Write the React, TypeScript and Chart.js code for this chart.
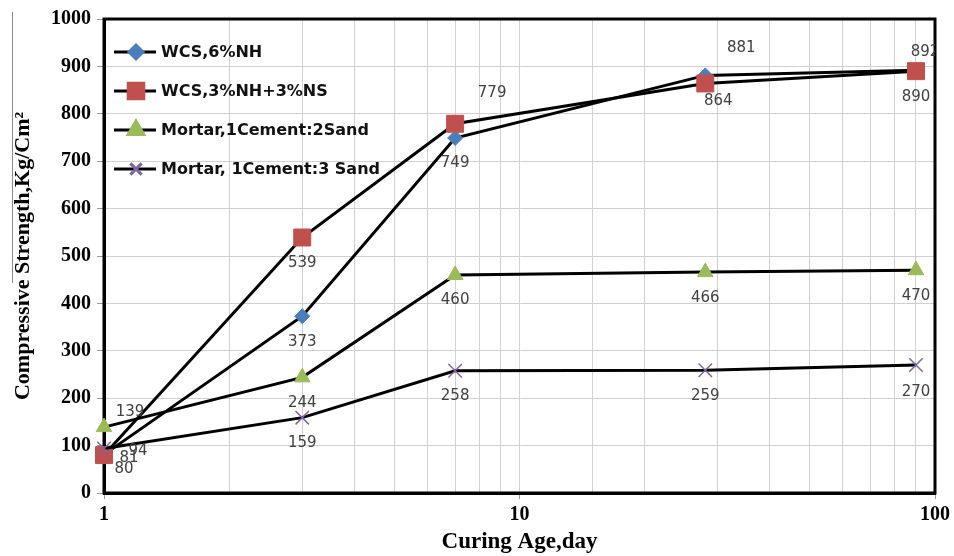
import React, { useEffect, useRef } from 'react';
import { Chart, registerables } from 'chart.js';
import { drawPoint } from 'chart.js/helpers';

Chart.register(...registerables);

// ---- data ----
const curingAges = [1, 3, 7, 28, 90];
const wcs6NH = [81, 373, 749, 881, 892];
const wcs3NH3NS = [80, 539, 779, 864, 890];
const mortar1to2 = [139, 244, 460, 466, 470];
const mortar1to3 = [94, 159, 258, 259, 270];
const seriesNames = ['WCS,6%NH', 'WCS,3%NH+3%NS', 'Mortar,1Cement:2Sand', 'Mortar, 1Cement:3 Sand'];
const xTickLabels = [1, 10, 100];
const yTitle = 'Compressive Strength,Kg/Cm\u00B2';
const xTitle = 'Curing Age,day';

// ---- styles ----
const markerColors = ['#4a7ebb', '#c0504d', '#9bbb59', '#8064a2'];
const markerStyles = ['rectRot', 'rect', 'triangle', 'crossRot'];
const markerRadius = [7.5, 12, 9, 9.5];
const legendRadius = [7, 11, 9, 8];
// data-label offsets (dx, dy) from each point, per series
const labelOffsets = [
  [[25, 4], [0, 26], [0, 25], [36, -27], [9, -18]],
  [[20, 14], [0, 26], [37, -31], [13, 18], [0, 26]],
  [[26, -15], [0, 26], [0, 25], [0, 26], [0, 26]],
  [[34, 3], [0, 25], [0, 25], [0, 26], [0, 27]],
];

const allSeries = [wcs6NH, wcs3NH3NS, mortar1to2, mortar1to3];

const overlayPlugin = {
  id: 'overlay',
  beforeDatasetsDraw(chart: any) {
    const { ctx, chartArea: a } = chart;
    ctx.save();
    ctx.strokeStyle = '#000';
    ctx.lineWidth = 3;
    ctx.strokeRect(a.left, a.top, a.right - a.left, a.bottom - a.top);
    ctx.restore();
    ctx.save();
    ctx.strokeStyle = '#8a8a8a';
    ctx.lineWidth = 1;
    ctx.beginPath();
    ctx.moveTo(12.5, 12);
    ctx.lineTo(12.5, 283);
    ctx.stroke();
    ctx.restore();
  },
  afterDatasetsDraw(chart: any) {
    const { ctx, chartArea: a } = chart;
    // data labels
    ctx.save();
    ctx.beginPath();
    ctx.rect(0, 0, a.right, chart.height);
    ctx.clip();
    ctx.font = '15px "DejaVu Sans"';
    ctx.fillStyle = '#404040';
    ctx.textAlign = 'center';
    ctx.textBaseline = 'middle';
    allSeries.forEach((vals, i) => {
      const meta = chart.getDatasetMeta(i);
      meta.data.forEach((pt: any, j: number) => {
        const [dx, dy] = labelOffsets[i][j];
        ctx.fillText(String(vals[j]), pt.x + dx, pt.y + dy);
      });
    });
    ctx.restore();

    // legend
    ctx.save();
    seriesNames.forEach((name, i) => {
      const y = a.top + 33 + i * 39;
      ctx.strokeStyle = '#000';
      ctx.lineWidth = 3;
      ctx.beginPath();
      ctx.moveTo(a.left + 10, y);
      ctx.lineTo(a.left + 52, y);
      ctx.stroke();
      ctx.fillStyle = markerColors[i];
      ctx.strokeStyle = markerColors[i];
      drawPoint(ctx, {
        pointStyle: markerStyles[i] as any,
        radius: legendRadius[i],
        rotation: 0,
        borderWidth: markerStyles[i] === 'crossRot' ? 1.5 : 1,
      } as any, a.left + 32, y);
      ctx.fillStyle = '#111';
      ctx.font = 'bold 16px "DejaVu Sans"';
      ctx.textAlign = 'left';
      ctx.textBaseline = 'middle';
      ctx.fillText(name, a.left + 57, y + 1);
    });
    ctx.restore();
  },
};

export default function App() {
  const ref = useRef<HTMLCanvasElement | null>(null);

  useEffect(() => {
    document.body.style.margin = '0';
    if (!ref.current) return;
    const datasets = allSeries.map((vals, i) => ({
      label: seriesNames[i],
      data: curingAges.map((x, j) => ({ x, y: vals[j] })),
      borderColor: '#000',
      borderWidth: 3,
      pointStyle: markerStyles[i],
      pointRadius: markerRadius[i],
      pointBackgroundColor: markerColors[i],
      pointBorderColor: markerColors[i],
      pointBorderWidth: markerStyles[i] === 'crossRot' ? 1.5 : 1,
      pointHoverRadius: markerRadius[i],
      fill: false,
      tension: 0,
      clip: false as any,
      order: 3 - i,
    }));

    const chart = new Chart(ref.current, {
      type: 'line',
      data: { datasets },
      plugins: [overlayPlugin],
      options: {
        responsive: false,
        animation: false,
        layout: { padding: { top: 19, right: 17, left: 0, bottom: 0 } },
        plugins: {
          legend: { display: false },
          tooltip: { enabled: false },
        },
        scales: {
          x: {
            type: 'logarithmic',
            min: 1,
            max: 100,
            afterFit: (s: any) => { s.height = 63; },
            border: { display: true, color: '#000', width: 3 },
            grid: {
              color: '#d0d0d0',
              lineWidth: 1,
              tickLength: 6,
              tickColor: (c: any) => {
                const v = c.tick ? c.tick.value : 0;
                return xTickLabels.includes(v) ? '#999' : 'rgba(0,0,0,0)';
              },
            },
            ticks: {
              autoSkip: false,
              maxRotation: 0,
              padding: 4,
              color: '#000',
              font: { family: '"Liberation Serif"', size: 20, weight: 'bold' },
              callback: (v: any) => (xTickLabels.includes(Number(v)) ? String(v) : ''),
            },
            title: {
              display: true,
              text: xTitle,
              color: '#000',
              font: { family: '"Liberation Serif"', size: 23, weight: 'bold' },
              padding: { top: 0, bottom: 0 },
            },
          },
          y: {
            type: 'linear',
            min: 0,
            max: 1000,
            afterFit: (s: any) => { s.width = 104; },
            border: { display: true, color: '#000', width: 3 },
            grid: { color: '#d0d0d0', lineWidth: 1, tickLength: 7, tickColor: '#999' },
            ticks: {
              stepSize: 100,
              padding: 6,
              color: '#000',
              font: { family: '"Liberation Serif"', size: 20, weight: 'bold' },
              callback: (v: any) => String(v),
            },
            title: {
              display: true,
              text: yTitle,
              color: '#000',
              font: { family: '"Liberation Serif"', size: 22, weight: 'bold' },
              padding: { top: 10, bottom: 0 },
            },
          },
        },
      },
    });
    return () => chart.destroy();
  }, []);

  return (
    <div style={{ width: 954, height: 556 }}>
      <canvas ref={ref} width={954} height={556} style={{ display: 'block' }} />
    </div>
  );
}
